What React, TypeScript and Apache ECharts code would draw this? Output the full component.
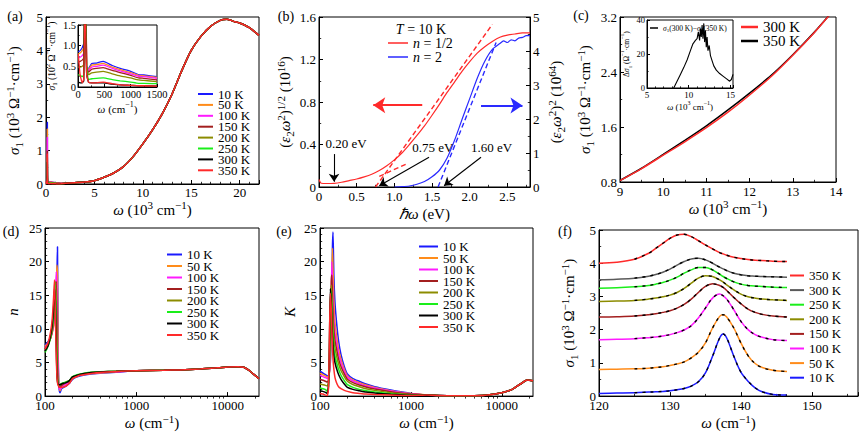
import React, { useEffect, useRef } from 'react';
import * as echarts from 'echarts';

const FONT = 'Liberation Serif';

// Temperatures and their line colours
const TEMPS = ['10 K', '50 K', '100 K', '150 K', '200 K', '250 K', '300 K', '350 K'];
const COLORS = ['#1a1aff', '#ff8c1a', '#ff1aff', '#a31f1f', '#8c8c00', '#1aee1a', '#000000', '#ff2a2a'];
const COLORS_F = ['#1a1aff', '#ff8c1a', '#ff1aff', '#a31f1f', '#8c8c00', '#1aee1a', '#5a5a5a', '#ff2a2a'];

// (a) optical conductivity, high-frequency part (10^3 cm^-1, 10^3 Ohm^-1 cm^-1)
const omegaMain = [2, 3, 4, 5, 6, 7, 8, 9, 10, 11, 12, 13, 14, 15, 16, 17, 18, 18.7, 19.5, 20, 21, 22];
const sigmaMain = [0.02, 0.04, 0.06, 0.1, 0.2, 0.33, 0.52, 0.82, 1.2, 1.62, 2.1, 2.68, 3.38, 4.0, 4.42, 4.72, 4.9, 4.93, 4.86, 4.82, 4.68, 4.45];

// (a) inset, far-infrared part (cm^-1, 10^2 Ohm^-1 cm^-1)
const omegaInset = [5, 40, 80, 110, 125, 130, 134, 137, 140, 145, 165, 200, 260, 350, 480, 650, 800, 1000, 1150, 1250, 1500];
const sigmaInset = [
  [0.85, 0.88, 0.95, 1.05, 1.0, 1.6, 5.0, 18.5, 13, 3.0, 0.45, 0.45, 0.57, 0.58, 0.62, 0.52, 0.45, 0.38, 0.3, 0.29, 0.25],
  [0.8, 0.82, 0.88, 0.95, 1.2, 2.5, 7.5, 16.5, 11, 3.5, 0.5, 0.42, 0.53, 0.54, 0.57, 0.48, 0.42, 0.35, 0.28, 0.27, 0.23],
  [0.7, 0.72, 0.76, 0.82, 1.5, 3.5, 9.5, 14, 8.5, 3.2, 0.5, 0.4, 0.48, 0.5, 0.53, 0.45, 0.39, 0.32, 0.26, 0.25, 0.21],
  [0.6, 0.62, 0.65, 0.7, 1.8, 4.5, 9.8, 10, 6.5, 2.8, 0.5, 0.36, 0.43, 0.45, 0.47, 0.4, 0.35, 0.28, 0.22, 0.21, 0.17],
  [0.48, 0.48, 0.5, 0.55, 2.2, 5.5, 8, 7.5, 5, 2.3, 0.5, 0.3, 0.34, 0.36, 0.38, 0.32, 0.27, 0.22, 0.17, 0.16, 0.13],
  [0.3, 0.28, 0.25, 0.3, 2.5, 6, 6.5, 5.5, 3.8, 2.0, 0.45, 0.18, 0.2, 0.21, 0.22, 0.18, 0.15, 0.12, 0.09, 0.09, 0.08],
  [0.12, 0.1, 0.1, 0.15, 3, 6.5, 6, 4.5, 3, 1.6, 0.3, 0.12, 0.1, 0.1, 0.1, 0.07, 0.05, 0.04, 0.03, 0.03, 0.02],
  [0.8, 0.3, 0.1, 0.2, 2.0, 9.0, 6.5, 4.3, 2.8, 1.5, 0.3, 0.12, 0.1, 0.1, 0.12, 0.08, 0.05, 0.04, 0.03, 0.03, 0.02],
];

// (b) Tauc-type plots at 10 K (eV)
const omegaBRed = [0, 0.03, 0.1, 0.2, 0.3, 0.4, 0.5, 0.6, 0.7, 0.8, 0.9, 1.0, 1.1, 1.2, 1.3, 1.4, 1.5, 1.6, 1.7, 1.8, 1.9, 2.0, 2.1, 2.2, 2.3, 2.4, 2.5, 2.6, 2.7, 2.8];
const epsHalf = [0.07, 0.035, 0.033, 0.035, 0.045, 0.06, 0.075, 0.095, 0.12, 0.155, 0.2, 0.255, 0.32, 0.4, 0.485, 0.575, 0.675, 0.78, 0.89, 0.99, 1.09, 1.18, 1.26, 1.32, 1.37, 1.41, 1.43, 1.44, 1.45, 1.45];
const omegaBBlue = [1.0, 1.1, 1.2, 1.3, 1.4, 1.5, 1.6, 1.7, 1.8, 1.9, 2.0, 2.1, 2.2, 2.3, 2.4, 2.45, 2.5, 2.55, 2.6, 2.65, 2.7, 2.75, 2.8];
const epsSq = [0, 0.01, 0.03, 0.08, 0.16, 0.3, 0.5, 0.85, 1.38, 2.0, 2.6, 3.2, 3.7, 4.05, 4.22, 4.3, 4.25, 4.33, 4.3, 4.38, 4.4, 4.45, 4.45];
const fitRedSteepX = [0.75, 2.3];
const fitRedSteepY = [0, 1.53];
const fitRedLowX = [0.8, 1.17];
const fitRedLowY = [0.1, 0.22];
const fitBlueX = [1.58, 2.35];
const fitBlueY = [0, 4.25];

// (c) 300 K vs 350 K (10^3 cm^-1, 10^3 Ohm^-1 cm^-1)
const omegaC = [9, 9.5, 10, 10.5, 11, 11.5, 12, 12.5, 13, 13.5, 14];
const sigma300C = [0.82, 0.995, 1.19, 1.385, 1.59, 1.815, 2.065, 2.335, 2.645, 2.975, 3.34];
const sigma350C = [0.822, 1.0, 1.2, 1.405, 1.617, 1.848, 2.093, 2.352, 2.652, 2.98, 3.342];
const omegaDelta = [8.2, 8.6, 9.0, 9.4, 9.8, 10.2, 10.5, 10.8, 11.0, 11.15, 11.3, 11.4, 11.5, 11.6, 11.7, 11.8, 11.9, 12.0, 12.1, 12.2, 12.3, 12.45, 12.6, 12.8, 13.0, 13.3, 13.7, 14.1, 14.5, 14.9, 15.1, 15.3];
const deltaSigma = [0, 4, 8, 12, 16.5, 22, 26, 28, 29, 33, 28, 35, 30, 37, 29, 38, 27, 34, 24, 30, 22, 25, 19, 16, 13, 10.5, 8.5, 7, 5.5, 4, 5, 8];

// (d) refractive index n
const omegaDLow = [100, 108, 115, 120, 124, 127, 130, 133, 135, 137, 139, 142, 146, 152, 160, 170, 185, 200, 230, 270, 320, 400, 600];
const nLow = [
  [7.6, 8.1, 8.8, 9.6, 10.5, 11.5, 13.0, 15.5, 18.0, 22.2, 8.0, 1.5, 0.5, 1.1, 1.3, 1.5, 1.9, 2.5, 2.9, 3.15, 3.3, 3.4, 3.55],
  [7.4, 7.9, 8.6, 9.4, 10.3, 11.4, 13.0, 16.0, 19.5, 18, 6, 1.5, 0.8, 1.3, 1.5, 1.7, 2.0, 2.6, 3.0, 3.2, 3.35, 3.45, 3.6],
  [7.2, 7.8, 8.6, 9.5, 10.6, 12, 14.5, 18.5, 16, 8, 3, 1.3, 1.0, 1.4, 1.6, 1.8, 2.1, 2.7, 3.05, 3.25, 3.4, 3.5, 3.62],
  [7.0, 7.7, 8.6, 9.7, 11, 13, 16.5, 17, 11, 4.5, 2.2, 1.4, 1.3, 1.6, 1.8, 2.0, 2.2, 2.8, 3.1, 3.3, 3.45, 3.55, 3.65],
  [6.8, 7.6, 8.7, 9.9, 11.5, 14, 17, 13, 7, 3.2, 2.0, 1.6, 1.6, 1.8, 1.9, 2.1, 2.3, 2.85, 3.15, 3.35, 3.5, 3.6, 3.68],
  [6.5, 7.4, 8.7, 10.2, 12, 15, 16.5, 10, 5, 2.5, 1.9, 1.7, 1.7, 1.9, 2.0, 2.1, 2.3, 2.9, 3.2, 3.4, 3.55, 3.62, 3.7],
  [6.7, 7.5, 9.0, 10.6, 12.8, 16, 14, 7, 3.5, 2.2, 1.8, 1.7, 1.7, 1.8, 1.9, 2.0, 2.3, 2.85, 3.15, 3.35, 3.5, 3.6, 3.68],
  [7.0, 7.9, 9.5, 11.5, 14.5, 17.3, 12, 5.5, 3.0, 2.0, 1.6, 1.4, 1.3, 1.3, 1.35, 1.5, 1.9, 2.6, 3.0, 3.2, 3.35, 3.5, 3.65],
];
const omegaDTail = [1000, 2000, 3000, 5000, 8000, 10000, 13000, 15000, 17000, 19000, 22000];
const nTail = [3.78, 3.85, 3.9, 4.02, 4.22, 4.33, 4.37, 4.3, 3.85, 3.3, 2.6];

// (e) extinction coefficient K
const omegaELow = [100, 108, 115, 120, 124, 127, 130, 133, 135, 137, 139, 142, 146, 152, 160, 170, 185, 200, 230, 270, 320, 400, 600, 800, 1000];
const kLow = [
  [3.7, 3.4, 3.2, 3.0, 3.1, 3.6, 5, 9, 15, 22, 24.4, 18, 14, 11, 8.2, 6.2, 4.4, 3.3, 2.6, 2.2, 1.8, 1.4, 0.9, 0.6, 0.4],
  [3.4, 3.15, 3.0, 2.8, 2.9, 3.5, 5.5, 11, 17, 22, 19, 14, 11, 9, 7, 5.5, 4.0, 3.0, 2.4, 2.0, 1.65, 1.3, 0.8, 0.55, 0.37],
  [3.1, 2.9, 2.75, 2.6, 2.8, 3.8, 7, 14, 20, 17, 14, 11.5, 9.5, 8, 6.3, 5.0, 3.7, 2.8, 2.25, 1.85, 1.5, 1.2, 0.75, 0.5, 0.34],
  [2.5, 2.35, 2.2, 2.1, 2.4, 4, 9, 17, 18, 15, 12.5, 10, 8.3, 7, 5.5, 4.4, 3.3, 2.5, 2.0, 1.65, 1.35, 1.05, 0.65, 0.43, 0.3],
  [1.8, 1.7, 1.6, 1.5, 2, 5, 12, 16.5, 15, 12.5, 10.5, 8.5, 7.2, 6.0, 4.8, 3.8, 2.9, 2.2, 1.7, 1.4, 1.1, 0.85, 0.5, 0.33, 0.22],
  [1.2, 1.1, 0.95, 0.7, 1.5, 6, 14, 15.5, 13, 10.5, 8.8, 7.2, 6.0, 5.0, 4.0, 3.1, 2.3, 1.7, 1.3, 1.0, 0.8, 0.6, 0.35, 0.22, 0.15],
  [0.8, 0.7, 0.55, 0.4, 1.5, 8, 16, 14, 11, 9, 7.5, 6.0, 5.0, 4.1, 3.2, 2.5, 1.8, 1.3, 1.0, 0.8, 0.6, 0.45, 0.28, 0.18, 0.12],
  [0.4, 0.3, 0.15, 0.1, 1.2, 9, 15.3, 13, 10, 7.5, 5.5, 4.0, 2.8, 2.0, 1.4, 1.1, 0.85, 0.7, 0.5, 0.4, 0.3, 0.22, 0.15, 0.1, 0.08],
];
const omegaETail = [1500, 2000, 3000, 5000, 7000, 10000, 13000, 16000, 19000, 22000];
const kTail = [0.15, 0.08, 0.04, 0.05, 0.15, 0.5, 1.0, 1.8, 2.4, 2.3];

// (f) phonon mode, curves offset vertically (cm^-1, 10^3 Ohm^-1 cm^-1)
const omegaF = [120, 122.5, 125, 127, 128, 129, 130, 131, 132, 133, 134, 135, 136, 137, 137.5, 138, 139, 140, 141, 142, 143, 144.5, 146.5];
const sigmaF = [
  [0.08, 0.09, 0.1, 0.12, 0.13, 0.14, 0.16, 0.19, 0.23, 0.3, 0.43, 0.7, 1.2, 1.75, 1.87, 1.75, 1.2, 0.72, 0.45, 0.25, 0.13, 0.05, 0.03],
  [0.8, 0.81, 0.82, 0.84, 0.86, 0.88, 0.92, 0.97, 1.03, 1.15, 1.32, 1.6, 2.05, 2.4, 2.45, 2.38, 2.05, 1.6, 1.22, 0.98, 0.86, 0.78, 0.74],
  [1.7, 1.71, 1.73, 1.76, 1.78, 1.81, 1.85, 1.91, 1.99, 2.12, 2.35, 2.65, 2.95, 3.07, 3.02, 2.92, 2.6, 2.25, 2.0, 1.85, 1.77, 1.7, 1.67],
  [2.38, 2.39, 2.41, 2.45, 2.48, 2.52, 2.57, 2.65, 2.76, 2.92, 3.12, 3.3, 3.38, 3.33, 3.27, 3.18, 2.97, 2.78, 2.62, 2.52, 2.46, 2.41, 2.38],
  [2.85, 2.86, 2.88, 2.92, 2.95, 2.99, 3.04, 3.12, 3.24, 3.4, 3.55, 3.62, 3.6, 3.5, 3.43, 3.35, 3.2, 3.07, 2.99, 2.95, 2.92, 2.9, 2.88],
  [3.25, 3.26, 3.29, 3.33, 3.37, 3.42, 3.49, 3.58, 3.7, 3.8, 3.87, 3.87, 3.8, 3.67, 3.6, 3.54, 3.44, 3.37, 3.33, 3.31, 3.3, 3.28, 3.27],
  [3.5, 3.52, 3.55, 3.61, 3.66, 3.73, 3.82, 3.94, 4.05, 4.13, 4.15, 4.1, 4.0, 3.88, 3.83, 3.78, 3.7, 3.65, 3.62, 3.61, 3.6, 3.59, 3.58],
  [4.0, 4.03, 4.12, 4.3, 4.45, 4.6, 4.75, 4.85, 4.87, 4.8, 4.68, 4.55, 4.43, 4.32, 4.28, 4.24, 4.18, 4.14, 4.11, 4.09, 4.08, 4.06, 4.05],
];

// log-axis minor tick positions
const logMinorTicks = [200, 300, 400, 500, 600, 700, 800, 900, 2000, 3000, 4000, 5000, 6000, 7000, 8000, 9000, 20000];

const zip = (xs: number[], ys: number[]) => xs.map((x, i) => [x, ys[i]]);
const stripTag = (n: string) => n.slice(n.indexOf(':') + 1);
const oneDecimal = (v: number) => (v === 0 ? '0' : v.toFixed(1));
const plainInt = (v: number) => String(Math.round(v));

function rich(s: number) {
  const small = Math.round(s * 0.7);
  return {
    i: { fontFamily: FONT, fontSize: s, fontStyle: 'italic', color: '#000' },
    sup: { fontFamily: FONT, fontSize: small, verticalAlign: 'top', color: '#000' },
    sub: { fontFamily: FONT, fontSize: small, verticalAlign: 'bottom', color: '#000' },
  };
}

const SIGMA3 = '{i|σ}{sub|1} (10{sup|3} Ω{sup|−1}·cm{sup|−1})';
const SIGMA2 = '{i|σ}{sub|1} (10{sup|2} Ω{sup|−1}·cm{sup|−1})';
const W_KCM = '{i|ω} (10{sup|3} cm{sup|−1})';
const W_CM = '{i|ω} (cm{sup|−1})';

interface AxisOpts {
  grid: number;
  type?: string;
  min: number;
  max: number;
  interval?: number;
  name?: string;
  nameGap?: number;
  nameSize?: number;
  fontSize?: number;
  margin?: number;
  minor?: number;
  tickLen?: number;
  fmt?: (v: number) => string;
  hideMax?: boolean;
  position?: string;
}

function axis(o: AxisOpts): any {
  const ns = o.nameSize ?? 15;
  const tl = o.tickLen ?? 4;
  const a: any = {
    gridIndex: o.grid,
    type: o.type ?? 'value',
    min: o.min,
    max: o.max,
    name: o.name ?? '',
    nameLocation: 'middle',
    nameGap: o.nameGap ?? 20,
    nameTextStyle: { color: '#000', fontFamily: FONT, fontSize: ns, lineHeight: ns + 5, rich: rich(ns) },
    axisLine: { show: true, onZero: false, lineStyle: { color: '#000', width: 1 } },
    axisTick: { show: true, inside: true, length: tl, lineStyle: { color: '#000', width: 1 } },
    minorTick: { show: !!o.minor, splitNumber: o.minor || 2, length: tl * 0.55, lineStyle: { color: '#000', width: 0.8 } },
    splitLine: { show: false },
    axisLabel: {
      show: true,
      color: '#000',
      fontFamily: FONT,
      fontSize: o.fontSize ?? 13,
      margin: o.margin ?? 3,
      formatter: o.fmt,
      showMaxLabel: o.hideMax ? false : null,
    },
  };
  if (o.interval !== undefined) a.interval = o.interval;
  if (o.position) a.position = o.position;
  return a;
}

function minorLogAxis(grid: number): any {
  return {
    gridIndex: grid,
    type: 'log',
    min: 100,
    max: 22000,
    axisLine: { show: false },
    axisLabel: { show: false },
    splitLine: { show: false },
    axisTick: { show: true, inside: true, length: 2.5, customValues: logMinorTicks, lineStyle: { color: '#000', width: 0.8 } },
  };
}

function line(name: string, xi: number, yi: number, data: number[][], color: string, extra: any = {}): any {
  return {
    type: 'line',
    name,
    xAxisIndex: xi,
    yAxisIndex: yi,
    data,
    showSymbol: false,
    symbol: 'none',
    smooth: 0.25,
    silent: true,
    animation: false,
    color,
    itemStyle: { color },
    lineStyle: { color, width: 1.5 },
    ...extra,
  };
}

function legend(o: any): any {
  return {
    orient: 'vertical',
    icon: 'rect',
    itemWidth: 15,
    itemHeight: 2,
    itemGap: 0,
    padding: 0,
    selectedMode: false,
    formatter: stripTag,
    textStyle: { color: '#000', fontFamily: FONT, fontSize: 13, lineHeight: 11.5 },
    ...o,
  };
}

function gtext(text: string, x: number, y: number, size = 14, extraStyle: any = {}): any {
  return {
    type: 'text',
    x,
    y,
    silent: true,
    style: {
      text,
      fill: '#000',
      fontFamily: FONT,
      fontSize: size,
      align: 'center',
      verticalAlign: 'middle',
      textAlign: 'center',
      textVerticalAlign: 'middle',
      ...extraStyle,
    },
  };
}

// one arrow drawn with the axis scales of the series it belongs to
function arrow(from: number[], to: number[], color: string, width: number, head: number): any {
  return [
    { coord: from, symbol: 'none', symbolSize: 0, lineStyle: { color, width, type: 'solid' } },
    { coord: to, symbol: 'arrow', symbolSize: head, lineStyle: { color, width, type: 'solid' } },
  ];
}

function buildOption(): any {
  const grid = [
    { left: 46, top: 17, width: 213, height: 167 }, // 0 (a)
    { left: 78, top: 25, width: 79, height: 62, backgroundColor: '#fff' }, // 1 (a) inset
    { left: 319, top: 17, width: 211, height: 170 }, // 2 (b)
    { left: 620, top: 17, width: 216, height: 165 }, // 3 (c)
    { left: 647, top: 20, width: 86, height: 68, backgroundColor: '#fff' }, // 4 (c) inset
    { left: 45, top: 228, width: 214, height: 174 }, // 5 (d)
    { left: 320, top: 228, width: 213, height: 172 }, // 6 (e)
    { left: 599, top: 230, width: 259, height: 168 }, // 7 (f)
  ].map((g) => ({ show: true, borderColor: '#000', borderWidth: 1, backgroundColor: 'transparent', ...g }));

  const xAxis = [
    axis({ grid: 0, min: 0, max: 22, interval: 5, minor: 5, hideMax: true, margin: 2, name: W_KCM, nameGap: 6 }),
    axis({ grid: 1, min: 0, max: 1500, interval: 500, minor: 2, fontSize: 10.5, margin: 2, tickLen: 3, fmt: plainInt, name: W_CM, nameSize: 11, nameGap: 10 }),
    axis({ grid: 2, min: 0, max: 2.8, interval: 0.5, minor: 2, hideMax: true, fmt: oneDecimal, name: '{i|ℏω} (eV)', nameGap: 8 }),
    axis({ grid: 3, min: 9, max: 14, interval: 1, minor: 2, name: W_KCM, nameGap: 13 }),
    axis({ grid: 4, min: 5, max: 15.3, interval: 5, minor: 5, hideMax: true, fontSize: 9, margin: 2, tickLen: 3, name: W_KCM, nameSize: 9, nameGap: 10 }),
    axis({ grid: 5, type: 'log', min: 100, max: 22000, hideMax: true, fmt: plainInt, name: W_CM, nameGap: 13 }),
    minorLogAxis(5),
    axis({ grid: 6, type: 'log', min: 100, max: 22000, hideMax: true, fmt: plainInt, name: W_CM, nameGap: 15 }),
    minorLogAxis(6),
    axis({ grid: 7, min: 120, max: 156.5, interval: 10, minor: 2, hideMax: true, name: W_CM, nameGap: 14 }),
  ];

  const yAxis = [
    axis({ grid: 0, min: 0, max: 5, interval: 1, minor: 2, name: SIGMA3, nameGap: 22 }),
    axis({ grid: 1, min: 0, max: 1.5, interval: 0.5, minor: 2, fontSize: 10.5, margin: 2, tickLen: 3, fmt: oneDecimal, name: SIGMA2, nameSize: 9.5, nameGap: 17 }),
    axis({ grid: 2, min: 0, max: 1.6, interval: 0.4, minor: 2, name: '({i|ε}{sub|2}{i|ω}{sup|2}){sup|1/2} (10{sup|16})', nameGap: 24 }),
    axis({ grid: 2, min: 0, max: 5, interval: 1, minor: 2, position: 'right', name: '({i|ε}{sub|2}{i|ω}{sup|2}){sup|2} (10{sup|64})', nameGap: 16 }),
    axis({ grid: 3, min: 0.8, max: 3.2, interval: 0.8, minor: 2, name: SIGMA3, nameGap: 25 }),
    axis({ grid: 4, min: 0, max: 40, interval: 20, minor: 2, fontSize: 8.5, margin: 2, tickLen: 3, name: 'Δ{i|σ}{sub|1} (Ω{sup|−1}·cm{sup|−1})', nameSize: 7.5, nameGap: 13 }),
    axis({ grid: 5, min: 0, max: 25, interval: 5, minor: 5, name: '{i|n}', nameGap: 22 }),
    axis({ grid: 6, min: 0, max: 25, interval: 5, minor: 5, name: '{i|K}', nameGap: 20 }),
    axis({ grid: 7, min: 0, max: 5, interval: 1, minor: 2, name: SIGMA3, nameGap: 20 }),
  ];

  const series: any[] = [];

  // (a) main and inset
  TEMPS.forEach((t, i) => {
    const low = zip(omegaInset.map((w) => w / 1000), sigmaInset[i].map((s) => s / 10));
    series.push(line('a:' + t, 0, 0, [...low, ...zip(omegaMain, sigmaMain)], COLORS[i], { smooth: 0.15 }));
  });
  TEMPS.forEach((t, i) => {
    series.push(line('ai:' + t, 1, 1, zip(omegaInset, sigmaInset[i]), COLORS[i], { smooth: 0.15, lineStyle: { color: COLORS[i], width: 1.3 } }));
  });

  // (b)
  const red = '#ff2a2a';
  const blue = '#2a2aff';
  series.push(
    line('b:n12', 2, 2, zip(omegaBRed, epsHalf), red, {
      lineStyle: { color: red, width: 1.2 },
      markLine: {
        silent: true,
        animation: false,
        label: { show: false },
        lineStyle: { type: 'solid' },
        data: [
          arrow([0.2, 0.31], [0.2, 0.05], '#000', 1.1, 8),
          arrow([1.46, 0.28], [0.8, 0.012], '#000', 1.1, 8),
          arrow([2.15, 0.28], [1.66, 0.012], '#000', 1.1, 8),
          arrow([1.37, 0.77], [0.72, 0.77], red, 2, 12),
        ],
      },
      markPoint: {
        silent: true,
        animation: false,
        symbol: 'circle',
        symbolSize: 1,
        itemStyle: { color: 'rgba(0,0,0,0)' },
        label: { show: true, position: 'inside', color: '#000', fontFamily: FONT, fontSize: 13 },
        data: [
          { coord: [0.36, 0.405], value: 0, label: { formatter: '0.20 eV' } },
          { coord: [1.51, 0.376], value: 0, label: { formatter: '0.75 eV' } },
          { coord: [2.29, 0.376], value: 0, label: { formatter: '1.60 eV' } },
        ],
      },
    })
  );
  series.push(
    line('b:n2', 2, 3, zip(omegaBBlue, epsSq), blue, {
      lineStyle: { color: blue, width: 1.2 },
      markLine: {
        silent: true,
        animation: false,
        label: { show: false },
        lineStyle: { type: 'solid' },
        data: [arrow([2.15, 2.4], [2.7, 2.4], blue, 2, 12)],
      },
    })
  );
  const dashed = (c: string) => ({ smooth: false, z: 4, lineStyle: { color: c, width: 1.4, type: [5, 3] } });
  series.push(line('b:fitRedSteep', 2, 2, zip(fitRedSteepX, fitRedSteepY), red, dashed(red)));
  series.push(line('b:fitRedLow', 2, 2, zip(fitRedLowX, fitRedLowY), red, dashed(red)));
  series.push(line('b:fitBlue', 2, 3, zip(fitBlueX, fitBlueY), blue, dashed(blue)));

  // (c)
  series.push(line('c:350 K', 3, 4, zip(omegaC, sigma350C), '#000', { lineStyle: { color: '#000', width: 1.5 } }));
  series.push(line('c:300 K', 3, 4, zip(omegaC, sigma300C), '#ff2a2a', { lineStyle: { color: '#ff2a2a', width: 1.5 } }));
  series.push(line('c:delta', 4, 5, zip(omegaDelta, deltaSigma), '#000', { smooth: false, lineStyle: { color: '#000', width: 1.1 } }));

  // (d) and (e)
  TEMPS.forEach((t, i) => {
    series.push(line('d:' + t, 5, 6, [...zip(omegaDLow, nLow[i]), ...zip(omegaDTail, nTail)], COLORS[i], { smooth: 0.2 }));
  });
  TEMPS.forEach((t, i) => {
    series.push(line('e:' + t, 7, 7, [...zip(omegaELow, kLow[i]), ...zip(omegaETail, kTail)], COLORS[i], { smooth: 0.2 }));
  });

  // (f) data with Lorentz fits
  TEMPS.forEach((t, i) => {
    series.push(line('f:' + t, 9, 8, zip(omegaF, sigmaF[i]), COLORS_F[i], { smooth: 0.35 }));
  });
  TEMPS.forEach((t, i) => {
    series.push(
      line('ffit:' + t, 9, 8, zip(omegaF.slice(2), sigmaF[i].slice(2)), '#000', {
        smooth: 0.35,
        z: 4,
        lineStyle: { color: '#000', width: 1.4, type: [3, 5] },
      })
    );
  });

  const legends = [
    legend({ left: 198, top: 87.5, itemGap: -2.1, data: TEMPS.map((t) => 'a:' + t) }),
    legend({ left: 167, top: 248, itemGap: -1.5, data: TEMPS.map((t) => 'd:' + t) }),
    legend({ left: 419, top: 240, itemGap: -1.5, itemWidth: 19, data: TEMPS.map((t) => 'e:' + t) }),
    legend({ left: 790, top: 269, itemGap: 1.6, itemWidth: 14, data: TEMPS.map((t) => 'f:' + t).reverse() }),
    legend({
      left: 388,
      top: 36,
      data: ['b:n12', 'b:n2'],
      itemWidth: 20,
      itemHeight: 1.5,
      itemGap: 0,
      formatter: (n: string) => (n === 'b:n12' ? '{i|n} = 1/2' : '{i|n} = 2'),
      textStyle: { color: '#000', fontFamily: FONT, fontSize: 14, lineHeight: 12, rich: rich(14) },
    }),
    legend({
      left: 741,
      top: 19.5,
      data: ['c:300 K', 'c:350 K'],
      itemWidth: 17,
      itemHeight: 2.5,
      itemGap: -1,
      textStyle: { color: '#000', fontFamily: FONT, fontSize: 15, lineHeight: 14 },
    }),
    legend({
      left: 650,
      top: 23,
      data: ['c:delta'],
      itemWidth: 8,
      itemHeight: 1.5,
      formatter: () => '{i|σ}{sub|1}(300 K)−{i|σ}{sub|1}(350 K)',
      textStyle: { color: '#000', fontFamily: FONT, fontSize: 7.5, lineHeight: 10, rich: rich(7.5) },
    }),
  ];

  const graphic = [
    gtext('(a)', 15, 16),
    gtext('(b)', 286, 16),
    gtext('(c)', 581, 15),
    gtext('(d)', 11, 231),
    gtext('(e)', 284, 231),
    gtext('(f)', 565, 231),
    gtext('{i|T} = 10 K', 421, 29, 14, { rich: rich(14) }),
  ];

  return {
    animation: false,
    backgroundColor: '#fff',
    textStyle: { fontFamily: FONT },
    grid,
    xAxis,
    yAxis,
    legend: legends,
    series,
    graphic,
  };
}

export default function App() {
  const ref = useRef<HTMLDivElement>(null);
  useEffect(() => {
    if (!ref.current) return;
    const chart = echarts.init(ref.current, null, { renderer: 'svg' });
    chart.setOption(buildOption());
    return () => chart.dispose();
  }, []);
  return <div ref={ref} style={{ position: 'absolute', left: 0, top: 0, width: 865, height: 434, background: '#fff' }} />;
}
